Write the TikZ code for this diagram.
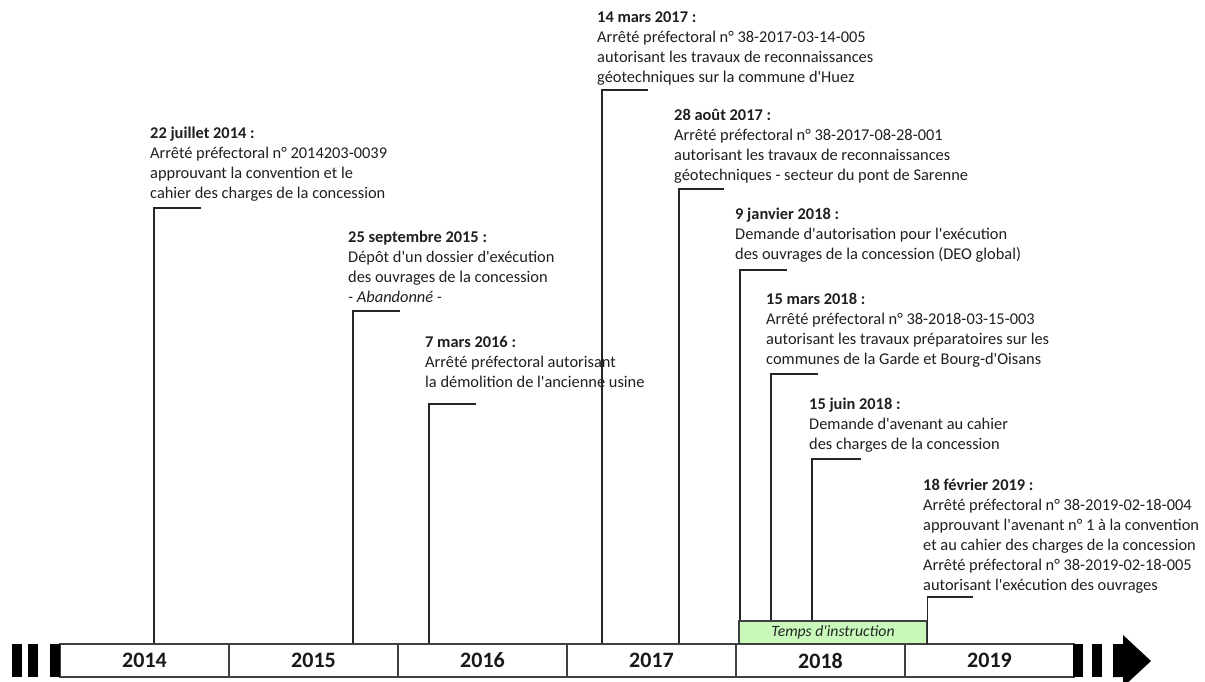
\documentclass[tikz,border=0pt]{standalone}
\usepackage{fontspec}
\setmainfont{Carlito}[Ligatures=TeXOff]
\begin{document}
\begin{tikzpicture}[x=1pt,y=-1pt,
  evtxt/.style={anchor=north west, inner sep=0pt, align=left,
    font=\fontsize{16.4}{20}\selectfont, text=black!88},
  evline/.style={line width=1.7pt, draw=black!85, line join=miter},
  yearbox/.style={draw=black!75, line width=1.1pt, fill=white,
    minimum width=169pt, minimum height=33pt, inner sep=0pt,
    font=\bfseries\fontsize{22}{24}\selectfont, text=black!90},
  blk/.style={fill=black, draw=none},
  instrbox/.style={draw=black!75, line width=1.1pt, fill={rgb,255:red,200;green,248;blue,186},
    minimum width=188pt, minimum height=23pt, inner sep=0pt,
    font=\itshape\fontsize{15.7}{18}\selectfont, text=black!85}
]
\useasboundingbox (0,0) rectangle (1205,681);

% timeline bar
\node[yearbox] (y2014) at (144.5,660.5) {2014};
\node[yearbox] (y2015) at (313.5,660.5) {2015};
\node[yearbox] (y2016) at (482.5,660.5) {2016};
\node[yearbox] (y2017) at (651.5,660.5) {2017};
\node[yearbox] (y2018) at (820.5,660.5) {2018};
\node[yearbox] (y2019) at (989.5,660.5) {2019};

% black blocks left
\fill[blk] (12,644) rectangle (22,677);
\fill[blk] (28,644) rectangle (38,677);
\fill[blk] (50,644) rectangle (60,677);
% black blocks right + arrow
\fill[blk] (1073,644) rectangle (1083,677);
\fill[blk] (1092,644) rectangle (1102,677);
\fill[blk] (1113,644) -- (1123,644) -- (1123,635) -- (1151,661) -- (1123,687)
  -- (1123,677) -- (1113,677) -- cycle;

% instruction box
\node[instrbox] (instr) at (833,632.5) {Temps d'instruction};

% event texts
\node[evtxt] (e1) at (150,124) {\textbf{\strut 22 juillet 2014 :}\\
Arrêté préfectoral n° 2014203-0039\\
approuvant la convention et le\\
cahier des charges de la concession};

\node[evtxt] (e2) at (348,228) {\textbf{\strut 25 septembre 2015 :}\\
Dépôt d'un dossier d'exécution\\
des ouvrages de la concession\\
\textit{- Abandonné -}};

\node[evtxt] (e3) at (425,333) {\textbf{\strut 7 mars 2016 :}\\
Arrêté préfectoral autorisant\\
la démolition de l'ancienne usine};

\node[evtxt] (e4) at (597,8) {\textbf{\strut 14 mars 2017 :}\\
Arrêté préfectoral n° 38-2017-03-14-005\\
autorisant les travaux de reconnaissances\\
géotechniques sur la commune d'Huez};

\node[evtxt] (e5) at (674,106) {\textbf{\strut 28 août 2017 :}\\
Arrêté préfectoral n° 38-2017-08-28-001\\
autorisant les travaux de reconnaissances\\
géotechniques - secteur du pont de Sarenne};

\node[evtxt] (e6) at (735,205) {\textbf{\strut 9 janvier 2018 :}\\
Demande d'autorisation pour l'exécution\\
des ouvrages de la concession (DEO global)};

\node[evtxt] (e7) at (766,290) {\textbf{\strut 15 mars 2018 :}\\
Arrêté préfectoral n° 38-2018-03-15-003\\
autorisant les travaux préparatoires sur les\\
communes de la Garde et Bourg-d'Oisans};

\node[evtxt] (e8) at (809,395) {\textbf{\strut 15 juin 2018 :}\\
Demande d'avenant au cahier\\
des charges de la concession};

\node[evtxt] (e9) at (923,476) {\textbf{\strut 18 février 2019 :}\\
Arrêté préfectoral n° 38-2019-02-18-004\\
approuvant l'avenant n° 1 à la convention\\
et au cahier des charges de la concession\\
Arrêté préfectoral n° 38-2019-02-18-005\\
autorisant l'exécution des ouvrages};

% connector ends
\coordinate (t1) at (201,208);
\coordinate (t2) at (400,311);
\coordinate (t3) at (476,404);
\coordinate (t4) at (648,90);
\coordinate (t5) at (724,189);
\coordinate (t6) at (787,270);
\coordinate (t7) at (818,374);
\coordinate (t8) at (861,459);
\coordinate (t9) at (973,597);

\draw[evline] (y2014.north -| 154,0) |- (t1);
\draw[evline] (y2015.north -| 353,0) |- (t2);
\draw[evline] (y2016.north -| 429,0) |- (t3);
\draw[evline] (y2017.north -| 602,0) |- (t4);
\draw[evline] (y2017.north -| 679,0) |- (t5);
\draw[evline] (instr.north -| 740,0) |- (t6);
\draw[evline] (instr.north -| 771,0) |- (t7);
\draw[evline] (instr.north -| 812,0) |- (t8);
\draw[evline] (instr.south east) |- (t9);
\end{tikzpicture}
\end{document}
